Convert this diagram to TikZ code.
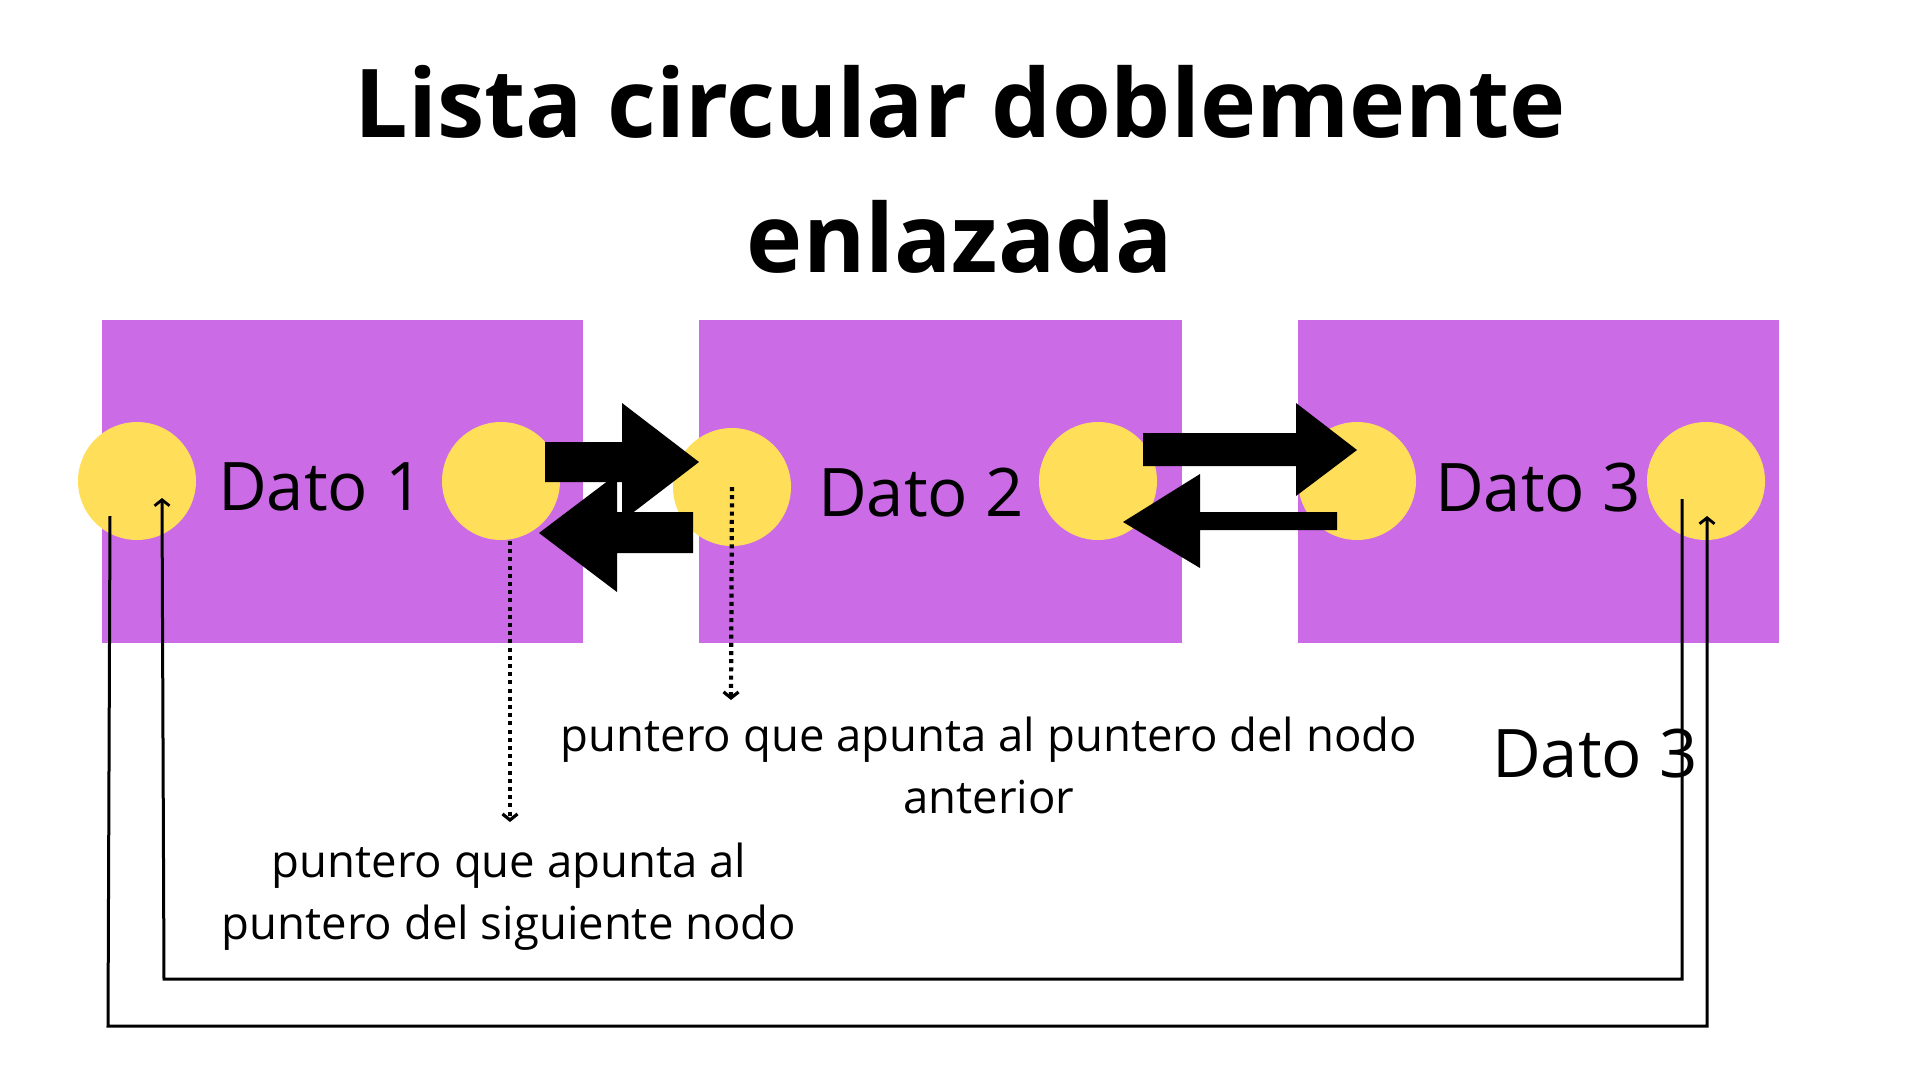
\documentclass[tikz,border=0pt]{standalone}
\usepackage{fontspec}
\setmainfont{Open Sans}
\usetikzlibrary{arrows.meta}
\definecolor{boxpurple}{HTML}{CB6CE6}
\definecolor{dotyellow}{HTML}{FFDE59}
\begin{document}
\begin{tikzpicture}[x=1pt,y=-1pt,
  databox/.style={fill=boxpurple,draw=none},
  ptr/.style={circle,fill=dotyellow,draw=none,minimum size=118pt,inner sep=0pt},
  datolbl/.style={anchor=base,inner sep=0pt,font=\fontsize{67}{80}\selectfont},
  notelbl/.style={anchor=base,inner sep=0pt,font=\fontsize{45.5}{56}\selectfont},
  titlelbl/.style={anchor=base,inner sep=0pt,font=\fontsize{95}{110}\selectfont\bfseries},
  blockarrow/.style={fill=black,draw=none},
  dotline/.style={line width=4.2pt,dash pattern=on 4pt off 4.2pt,-{Straight Barb[length=6pt,width=15pt,line width=3.2pt]}},
  wirearrow/.style={line width=3pt,-{Straight Barb[length=6pt,width=15pt,line width=2.8pt]}}
]
\useasboundingbox (0,0) rectangle (1920,1080);
\fill[white] (0,0) rectangle (1920,1080);

% title
\node[titlelbl] (t1) at (960,137) {Lista circular doblemente};
\node[titlelbl] (t2) at (960,272) {enlazada};

% boxes
\fill[databox] (101.6,319.6) rectangle (582.9,642.9);
\fill[databox] (699.2,319.6) rectangle (1181.6,642.9);
\fill[databox] (1298,319.6) rectangle (1779.2,642.9);

% pointer circles
\node[ptr] (c1l) at (137,481) {};
\node[ptr] (c1r) at (501,481) {};
\node[ptr] (c2l) at (732,487) {};
\node[ptr] (c2r) at (1098,481) {};
\node[ptr] (c3l) at (1357,481) {};
\node[ptr] (c3r) at (1706,481) {};

% data labels
\node[datolbl] (d1) at (321,510) {Dato 1};
\node[datolbl] (d2) at (921,516) {Dato 2};
\node[datolbl] (d3) at (1538,511) {Dato 3};

% block arrows
\fill[blockarrow] (545,442) -- (622,442) -- (622,403) -- (699,462) -- (622,521) -- (622,482) -- (545,482) -- cycle;
\fill[blockarrow] (693,512) -- (617,512) -- (617,474) -- (539,533) -- (617,592) -- (617,553) -- (693,553) -- cycle;
\fill[blockarrow] (1143,433) -- (1296,433) -- (1296,403) -- (1357,450) -- (1296,496) -- (1296,466) -- (1143,466) -- cycle;
\fill[blockarrow] (1337,512) -- (1200,512) -- (1200,474) -- (1123,522) -- (1200,568) -- (1200,530) -- (1337,530) -- cycle;

% dotted pointers
\coordinate (e1) at (731,700);
\coordinate (e2) at (510,822);
\draw[dotline] (c2l.center) -- (e1);
\draw[dotline] ([xshift=9pt,yshift=-60pt]c1r.center) -- (e2);

% notes
\node[notelbl] (n1a) at (989,751) {puntero que apunta al puntero del nodo};
\node[notelbl] (n1b) at (989,813) {anterior};
\node[notelbl] (n2a) at (509,877) {puntero que apunta al};
\node[notelbl] (n2b) at (509,939) {puntero del siguiente nodo};

\node[datolbl] (d3b) at (1595,777) {Dato 3};

% circular wires
\coordinate (w1) at (108,1026);
\coordinate (w2) at (1707,1026);
\draw[wirearrow] ([xshift=-27pt,yshift=-35pt]c1l.center) -- (w1) -- (w2) -- ([xshift=1pt,yshift=-35pt]c3r.center);
\coordinate (w3) at (1682,979);
\coordinate (w4) at (164,979);
\draw[wirearrow] ([xshift=-24pt,yshift=-18pt]c3r.center) -- (w3) -- (w4) -- ([xshift=25pt,yshift=-17pt]c1l.center);
\end{tikzpicture}
\end{document}
